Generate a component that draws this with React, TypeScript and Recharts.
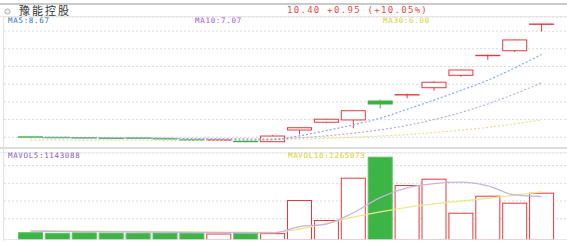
import React from 'react';
import { ComposedChart, Bar, Line, XAxis, YAxis, CartesianGrid, ReferenceLine } from 'recharts';

const days = ['D1','D2','D3','D4','D5','D6','D7','D8','D9','D10','D11','D12','D13','D14','D15','D16','D17','D18','D19','D20'];
const opens  = [4.03, 4.00, 4.00, 3.95, 3.96, 3.94, 3.89, 3.84, 3.79, 3.75, 4.41, 4.85, 4.98, 6.05, 6.35, 6.80, 7.50, 8.59, 8.89, 10.38];
const closes = [4.00, 3.98, 3.94, 3.93, 3.94, 3.89, 3.81, 3.85, 3.73, 4.07, 4.54, 5.02, 5.50, 5.88, 6.45, 7.11, 7.80, 8.65, 9.50, 10.40];
const highs  = [4.04, 4.01, 4.01, 3.96, 3.97, 3.95, 3.90, 3.86, 3.80, 4.12, 4.56, 5.04, 5.52, 6.12, 6.47, 7.16, 7.82, 8.67, 9.52, 10.41];
const lows   = [3.99, 3.97, 3.93, 3.92, 3.93, 3.88, 3.80, 3.83, 3.72, 3.74, 4.17, 4.79, 4.51, 5.62, 6.20, 6.63, 7.42, 8.37, 8.82, 9.97];
const ma5  = [3.99, 3.98, 3.97, 3.96, 3.96, 3.94, 3.90, 3.88, 3.84, 3.87, 4.08, 4.38, 4.70, 5.08, 5.58, 6.10, 6.65, 7.22, 7.92, 8.68];
const ma10 = [3.98, 3.98, 3.97, 3.97, 3.96, 3.95, 3.94, 3.93, 3.92, 3.91, 3.97, 4.08, 4.23, 4.42, 4.67, 5.00, 5.40, 5.88, 6.45, 7.08];
const ma30 = [3.85, 3.85, 3.84, 3.84, 3.84, 3.83, 3.83, 3.83, 3.84, 3.86, 3.90, 3.94, 4.00, 4.07, 4.15, 4.27, 4.40, 4.56, 4.76, 4.98];
const volumes = [205000, 190000, 200000, 195000, 192000, 195000, 190000, 170000, 188000, 180000, 1051000, 525000, 1637000, 2189000, 1445000, 1611000, 717000, 1164000, 980000, 1243000];
const mavol5  = [232000, 228000, 222000, 216000, 210000, 204000, 199000, 194000, 190000, 186000, 353000, 420000, 715000, 1115000, 1369000, 1481000, 1520000, 1425000, 1183000, 1143088];
const mavol10 = [240000, 237000, 233000, 229000, 225000, 220000, 214000, 208000, 203000, 199000, 289000, 434000, 600000, 740000, 860000, 950000, 1020000, 1095000, 1180000, 1265073];

const priceTicks = [4, 5, 6, 7, 8, 9, 10];
const volTicks = [560000, 1025000, 1490000, 1955000];

const stockName = '豫能控股';
const quoteText = '10.40 +0.95 (+10.05%)';
const maLabels = ['MA5:8.67', 'MA10:7.07', 'MA30:6.00'];
const volLabels = ['MAVOL5:1143088', 'MAVOL10:1265073'];

const data = days.map((d, i) => ({
  d,
  open: opens[i],
  close: closes[i],
  high: highs[i],
  low: lows[i],
  ma5: ma5[i],
  ma10: ma10[i],
  ma30: ma30[i],
  vol: volumes[i],
  mavol5: mavol5[i],
  mavol10: mavol10[i],
}));

const UP = '#e8383d';
const DOWN = '#3cb043';

function Candle(props: any) {
  const { x, y, width, height, payload } = props;
  if (!payload) return null;
  const top = Math.min(y, y + height);
  const bot = Math.max(y, y + height);
  const { open, close, high, low } = payload;
  const px = (v: number) => top + ((bot - top) * (high - v)) / (high - low);
  const up = close >= open;
  const col = up ? UP : DOWN;
  const yO = px(open);
  const yC = px(close);
  let bt = Math.min(yO, yC);
  let bb = Math.max(yO, yC);
  const cx = x + width / 2;
  const thin = bb - bt < 2;
  if (thin) {
    const m = (bt + bb) / 2;
    bt = m - 0.7;
    bb = m + 0.7;
  }
  return (
    <g>
      <line x1={cx} x2={cx} y1={top} y2={bot} stroke={col} strokeWidth={1} />
      {thin ? (
        <rect x={x} y={bt} width={width} height={bb - bt} fill={col} />
      ) : (
        <rect x={x + 0.5} y={bt} width={width - 1} height={bb - bt} fill={up ? '#fff' : DOWN} stroke={col} strokeWidth={1} />
      )}
    </g>
  );
}

function VolBar(props: any) {
  const { x, y, width, height, payload } = props;
  if (!payload) return null;
  const up = payload.close >= payload.open;
  return (
    <rect
      x={x + 0.5}
      y={y + 0.5}
      width={width - 1}
      height={Math.max(0, height - 0.5)}
      fill={up ? '#fff' : '#3db446'}
      stroke={up ? UP : '#5cc265'}
      strokeWidth={1}
    />
  );
}

const mono = '"DejaVu Sans Mono", monospace';

function Label({ text, left, top, color, size = 7.5, spacing = 0.7, h = 8 }: any) {
  return (
    <div
      style={{
        position: 'absolute',
        left,
        top,
        height: h,
        lineHeight: h + 'px',
        fontSize: size,
        letterSpacing: spacing,
        color,
        fontFamily: mono,
        whiteSpace: 'nowrap',
      }}
    >
      {text}
    </div>
  );
}

export default function App() {
  const xPad = { left: 13, right: 12 };
  return (
    <div style={{ position: 'absolute', left: 0, top: 0, width: 567, height: 242, background: '#fff', overflow: 'hidden' }}>
      {/* header */}
      <div style={{ position: 'absolute', left: 0, top: 3, width: 567, height: 2, background: '#c9c9c9' }} />
      <svg style={{ position: 'absolute', left: 0, top: 0 }} width={20} height={20}>
        <circle cx={7.5} cy={11.5} r={2.6} fill="#eee" stroke="#b0b0b0" strokeWidth={1} />
      </svg>
      <div
        style={{
          position: 'absolute',
          left: 19,
          top: 4.5,
          height: 11,
          lineHeight: '11px',
          fontSize: 11,
          letterSpacing: 2,
          color: '#333',
          fontFamily: '"Noto Sans CJK SC", sans-serif',
          whiteSpace: 'nowrap',
        }}
      >
        {stockName}
      </div>
      <Label text={quoteText} left={287} top={5.8} color="#e84848" size={9} spacing={1.3} h={9} />
      <div style={{ position: 'absolute', left: 0, top: 16, width: 567, height: 1, background: '#e6e6e6' }} />

      {/* price chart */}
      <div style={{ position: 'absolute', left: 0, top: 17 }}>
        <ComposedChart width={567} height={131} data={data} margin={{ top: 0, right: 0, bottom: 0, left: 4 }}>
          <CartesianGrid vertical={false} stroke="#d8d8d8" strokeDasharray="2 2" />
          <XAxis dataKey="d" hide padding={xPad} />
          <YAxis hide domain={[3.3944, 10.7955]} ticks={priceTicks} interval={0} allowDataOverflow />
          <Bar dataKey={(e: any) => [e.low, e.high]} barSize={25} shape={<Candle />} isAnimationActive={false} />
          <Line type="monotone" dataKey="ma30" stroke="#e4e08a" strokeWidth={1.2} strokeDasharray="2 2" dot={false} isAnimationActive={false} />
          <Line type="monotone" dataKey="ma10" stroke="#c3a8dc" strokeWidth={1.2} strokeDasharray="2 2" dot={false} isAnimationActive={false} />
          <Line type="monotone" dataKey="ma5" stroke="#86a9de" strokeWidth={1.2} strokeDasharray="2 2" dot={false} isAnimationActive={false} />
        </ComposedChart>
      </div>
      <Label text={maLabels[0]} left={8} top={17.3} color="#2f6fc6" />
      <Label text={maLabels[1]} left={195} top={17.3} color="#9b59c2" />
      <Label text={maLabels[2]} left={383} top={17.3} color="#d6cf2a" />

      {/* separator */}
      <div style={{ position: 'absolute', left: 0, top: 147, width: 567, height: 2, background: '#dcdcdc' }} />
      <div style={{ position: 'absolute', left: 0, top: 152, width: 567, height: 1, background: '#ececec' }} />

      {/* volume chart */}
      <div style={{ position: 'absolute', left: 0, top: 153 }}>
        <ComposedChart width={567} height={87} data={data} margin={{ top: 0, right: 0, bottom: 0, left: 4 }}>
          <CartesianGrid vertical={false} stroke="#d8d8d8" strokeDasharray="2 2" />
          <XAxis dataKey="d" hide padding={xPad} />
          <YAxis hide domain={[0, 2286000]} ticks={volTicks} interval={0} allowDataOverflow />
          <Bar dataKey="vol" barSize={25} shape={<VolBar />} isAnimationActive={false} />
          <ReferenceLine y={0} stroke="#e2e2e2" strokeWidth={1.5} />
          <Line type="monotone" dataKey="mavol10" stroke="#ebe78f" strokeWidth={1.3} dot={false} isAnimationActive={false} />
          <Line type="monotone" dataKey="mavol5" stroke="#c7b4da" strokeWidth={1.3} dot={false} isAnimationActive={false} />
        </ComposedChart>
      </div>
      <Label text={volLabels[0]} left={8} top={151.5} color="#8e5cb4" spacing={0.65} />
      <Label text={volLabels[1]} left={288} top={151.5} color="#d6cf2a" spacing={0.65} />

      {/* left border */}
      <div style={{ position: 'absolute', left: 3, top: 17, width: 1, height: 224, background: '#e0e0e0' }} />
    </div>
  );
}
